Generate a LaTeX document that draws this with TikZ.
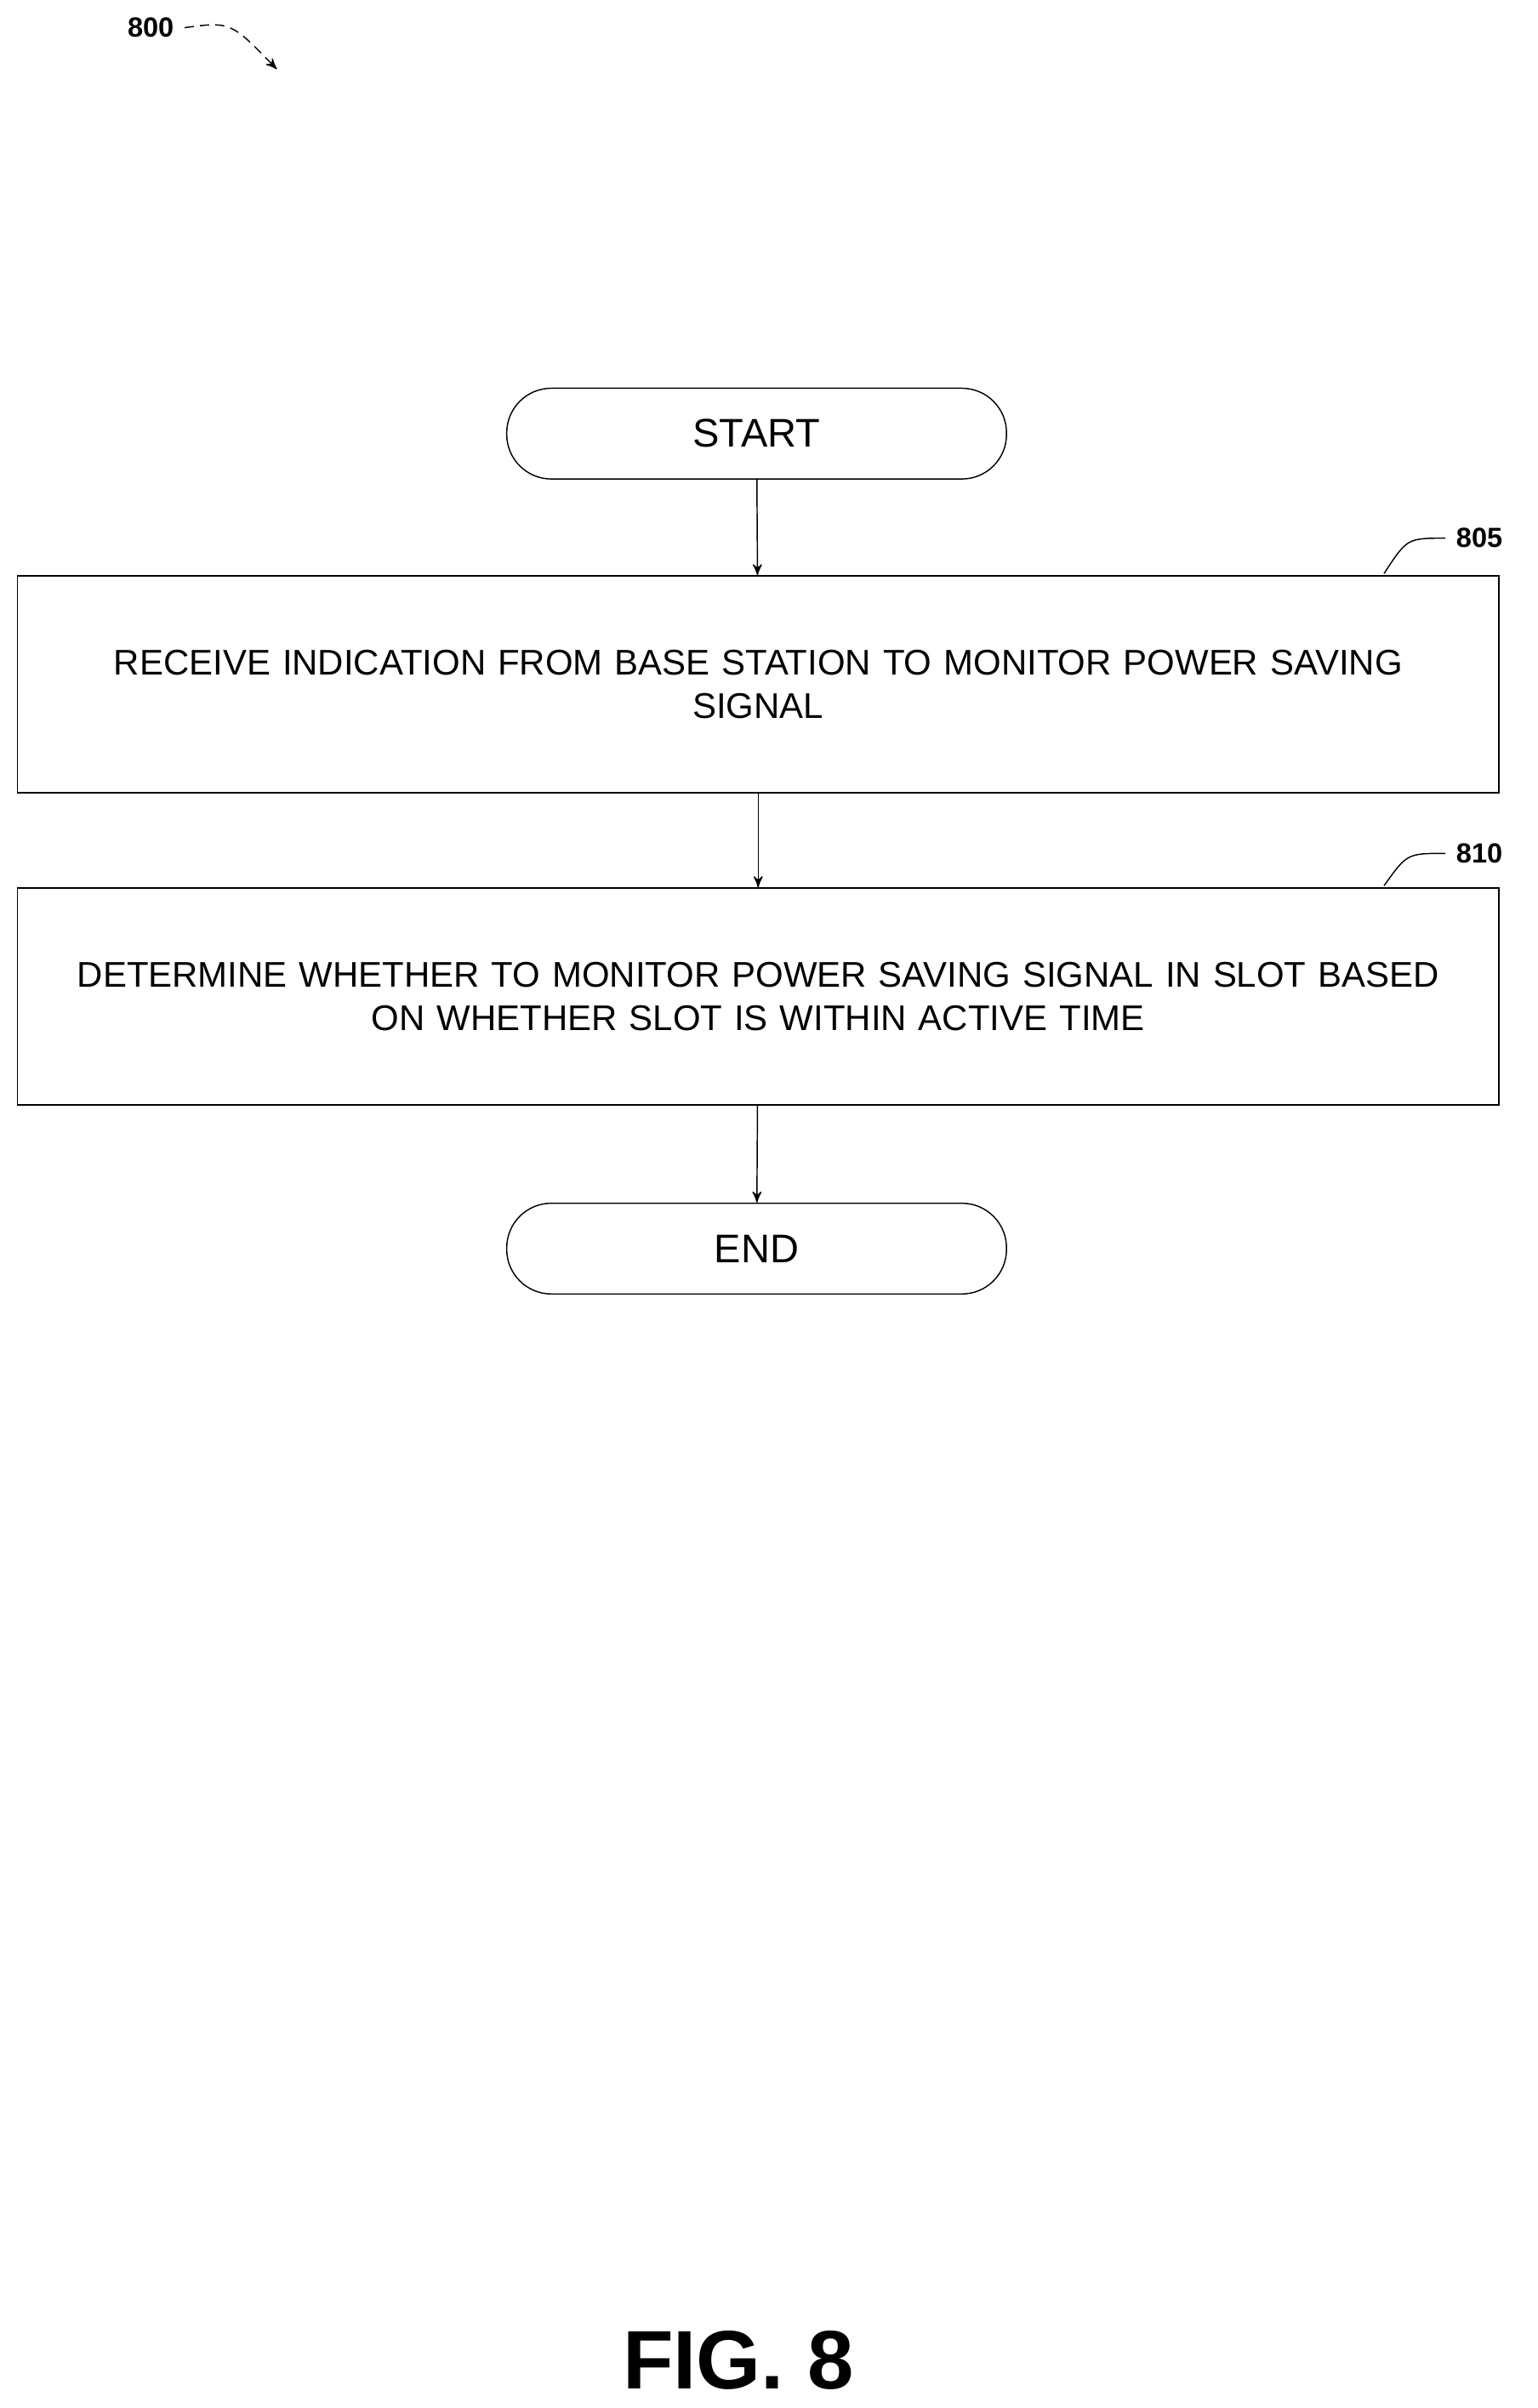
\documentclass[tikz,border=0pt]{standalone}
\usepackage{fontspec}
\setmainfont{Liberation Sans}
\usetikzlibrary{arrows,positioning}

\begin{document}
\begin{tikzpicture}[x=0.5pt,y=-0.5pt,>=stealth',
    term/.style={draw,rounded corners=14.5pt,minimum width=162.5pt,minimum height=29.5pt,font=\fontsize{13}{15}\selectfont},
    block/.style={draw,minimum width=481pt,minimum height=70.5pt,text width=475pt,align=center,font=\fontsize{11.6}{14}\selectfont},
    ref/.style={font=\bfseries\fontsize{9}{11}\selectfont}]
    \useasboundingbox (0,0) rectangle (1000,1566);
    \node[ref]   (800)  at (98,18)   {800};
    \node[term]  (start) at (492,282) {START};
    \node[block] (805)  at (493,445) {RECEIVE INDICATION FROM BASE STATION TO MONITOR POWER SAVING\\ SIGNAL};
    \node[block] (810)  at (493,648) {DETERMINE WHETHER TO MONITOR POWER SAVING SIGNAL IN SLOT BASED\\ ON WHETHER SLOT IS WITHIN ACTIVE TIME};
    \node[term]  (end)  at (492,812) {END};
    \node[ref]   (l805) at (962,350) {805};
    \node[ref]   (l810) at (962,555) {810};
    \node[font=\bfseries\fontsize{27}{30}\selectfont] (fig) at (480,1535) {FIG. 8};

    \path [->]
    (start) edge (805)
    (805)   edge (810)
    (810)   edge (end);
    % leaders
    \draw[->,densely dashed] (800.east) .. controls (150,14) .. (180,45);
    \draw (l805.west) .. controls (915,350) .. (900,373);
    \draw (l810.west) .. controls (915,555) .. (900,576);
\end{tikzpicture}
\end{document}
